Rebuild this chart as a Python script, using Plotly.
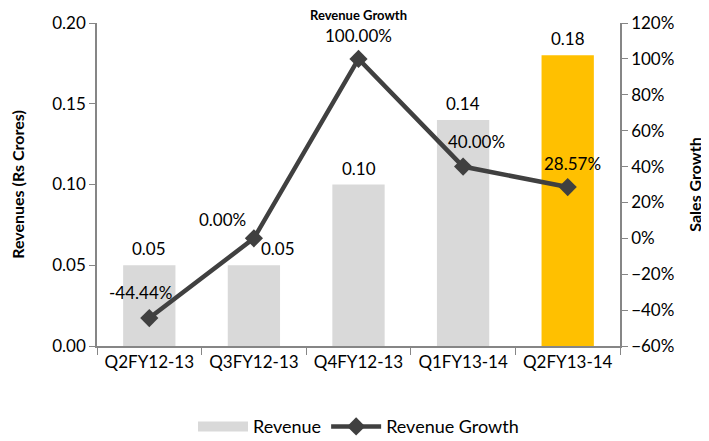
import plotly.graph_objects as go

categories = ["Q2FY12-13", "Q3FY12-13", "Q4FY12-13", "Q1FY13-14", "Q2FY13-14"]
revenue = [0.05, 0.05, 0.10, 0.14, 0.18]
growth = [-44.44, 0.00, 100.00, 40.00, 28.57]
bar_colors = ["#D9D9D9", "#D9D9D9", "#D9D9D9", "#D9D9D9", "#FFC000"]
# label offsets (pixels) relative to the data point
growth_label_dx = [-9, -31, 0, 13, 5]
growth_label_dy = [26, 19, 23, 25, 24]
bar_label_dx = [0, 24, 0, 0, 0]

FONT = "Lato, Liberation Sans, sans-serif"
AX = "#868686"
FS = 17

fig = go.Figure()
fig.add_trace(go.Bar(
    x=categories, y=revenue, name="Revenue",
    marker=dict(color=bar_colors, line=dict(width=0)),
    width=0.5, showlegend=False,
))
# legend entry drawn as a wide grey swatch, like the reference
fig.add_trace(go.Scatter(
    x=[None], y=[None], name="Revenue", mode="lines",
    line=dict(color="#D9D9D9", width=14), showlegend=True,
))
fig.add_trace(go.Scatter(
    x=categories, y=growth, name="Revenue Growth", yaxis="y2",
    mode="lines+markers",
    line=dict(color="#404040", width=4.5),
    marker=dict(symbol="diamond", size=14, color="#404040"),
    cliponaxis=False,
))
for c, v, dx in zip(categories, revenue, bar_label_dx):
    fig.add_annotation(x=c, y=v, xref="x", yref="y", text=f"{v:.2f}", showarrow=False,
                       yanchor="bottom", yshift=4, xshift=dx,
                       font=dict(size=FS, color="#000000", family=FONT))
for c, g, dx, dy in zip(categories, growth, growth_label_dx, growth_label_dy):
    fig.add_annotation(x=c, y=g, xref="x", yref="y2", text=f"{g:.2f}%", showarrow=False,
                       xanchor="center", yanchor="middle", xshift=dx, yshift=dy,
                       font=dict(size=FS, color="#000000", family=FONT))

fig.update_layout(
    width=701, height=433,
    margin=dict(l=89, r=89, t=15, b=95, autoexpand=False),
    paper_bgcolor="white", plot_bgcolor="white",
    font=dict(family=FONT, size=FS, color="#000000"),
    title=dict(text="<b>Revenue Growth</b>", x=0.5, xanchor="center", y=1.0, yanchor="top",
               yref="container", pad=dict(t=3), font=dict(size=13, family=FONT)),
    showlegend=True,
    legend=dict(orientation="h", x=0.5, xanchor="center", y=-0.25, yanchor="middle",
                font=dict(size=18, family=FONT), traceorder="normal", itemwidth=50),
    xaxis=dict(
        showline=True, linecolor=AX, linewidth=1.5, ticks="outside", tickson="boundaries",
        ticklen=7, tickcolor=AX, tickfont=dict(size=FS), showgrid=False, automargin=False,
    ),
    yaxis=dict(
        range=[0, 0.20], dtick=0.05, tickformat=".2f", showline=True, linecolor=AX, linewidth=1.5,
        ticks="outside", ticklen=6, tickcolor=AX, showgrid=False, zeroline=False,
        tickfont=dict(size=FS), automargin=False,
        title=dict(text="<b>Revenues (Rs Crores)</b>", font=dict(size=16), standoff=25),
    ),
    yaxis2=dict(
        range=[-60, 120], dtick=20, ticksuffix="%", overlaying="y", side="right",
        showline=True, linecolor=AX, linewidth=1.5, ticks="outside", ticklen=6, tickcolor=AX,
        showgrid=False, zeroline=False, tickfont=dict(size=FS), automargin=False,
        title=dict(text="<b>Sales Growth</b>", font=dict(size=16), standoff=16),
    ),
)

fig.write_html("out.html")
